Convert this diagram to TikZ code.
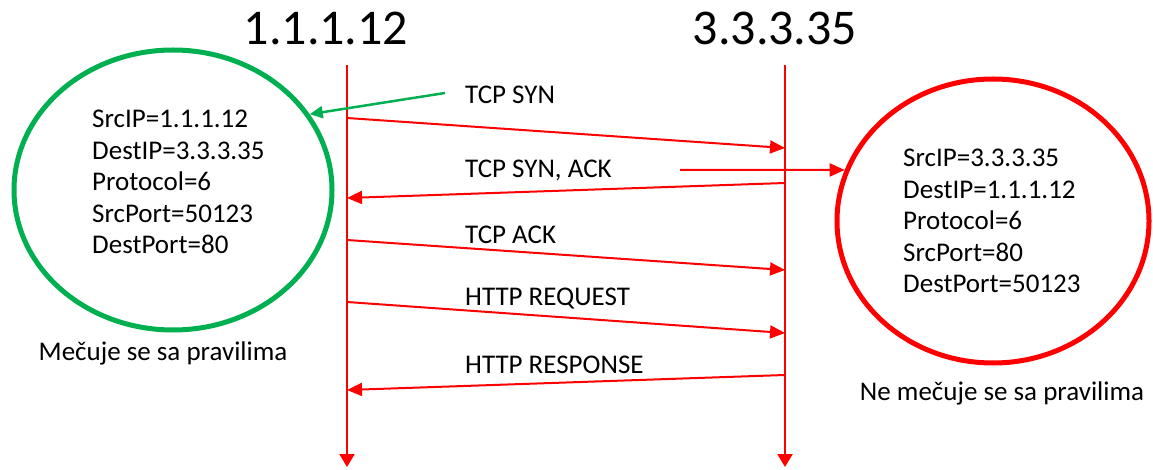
\documentclass[tikz,border=0pt]{standalone}
\usepackage{fontspec}
\setmainfont{Carlito}
\usetikzlibrary{arrows.meta}
\usetikzlibrary{shapes.geometric}
\usetikzlibrary{positioning}
\definecolor{okgreen}{HTML}{00B050}
\definecolor{msgred}{HTML}{FF0000}

\begin{document}
\begin{tikzpicture}[x=1pt, y=-1pt,
    host/.style={font=\fontsize{50}{54}\selectfont, inner sep=0pt},
    life/.style={draw=msgred, line width=2.3pt, -{Triangle[length=13pt, width=15pt]}},
    msg/.style={draw=msgred, line width=2pt, -{Triangle[length=15pt, width=13pt]}},
    note/.style={draw=okgreen, line width=2.5pt, -{Triangle[length=13pt, width=12pt]}},
    msglabel/.style={anchor=west, font=\fontsize{27}{31}\selectfont, inner sep=0pt},
    rules/.style={align=left, anchor=west, font=\fontsize{27}{31.5}\selectfont, inner sep=0pt},
    caption/.style={font=\fontsize{27}{31}\selectfont, inner sep=0pt},
    flow/.style={ellipse, line width=5pt, inner sep=0pt}]
       \useasboundingbox (0,0) rectangle (1153,470);

       % hosts and lifelines
       \node[host] (h1) at (326,28) {1.1.1.12};
       \node[host] (h2) at (775,28) {3.3.3.35};
       \coordinate (h1top) at (347,65);
       \coordinate (h1bot) at (347,467);
       \coordinate (h2top) at (785,65);
       \coordinate (h2bot) at (785,467);
       \draw[life] (h1top) -- (h1bot);
       \draw[life] (h2top) -- (h2bot);

       % packets
       \coordinate (syn1) at (347,118);  \coordinate (syn2) at (785,148);
       \coordinate (sack1) at (785,183); \coordinate (sack2) at (347,198);
       \coordinate (ack1) at (347,240);  \coordinate (ack2) at (785,270);
       \coordinate (req1) at (347,302);  \coordinate (req2) at (785,333);
       \coordinate (resp1) at (785,375); \coordinate (resp2) at (347,390);
       \draw[msg] (syn1) -- (syn2);
       \draw[msg] (sack1) -- (sack2);
       \draw[msg] (ack1) -- (ack2);
       \draw[msg] (req1) -- (req2);
       \draw[msg] (resp1) -- (resp2);
       \node[msglabel] (synl) at (465,95) {TCP SYN};
       \node[msglabel] (sackl) at (465,170) {TCP SYN, ACK};
       \node[msglabel] (ackl) at (465,235) {TCP ACK};
       \node[msglabel] (reql) at (465,299) {HTTP REQUEST};
       \node[msglabel] (respl) at (465,365) {HTTP RESPONSE};

       % firewall state
       \node[flow, draw=okgreen, minimum width=318, minimum height=280] (green) at (173,190) {};
       \node[flow, draw=msgred, minimum width=312, minimum height=284] (red) at (993,221) {};
       \node[rules] (gtxt) at (92,182) {SrcIP=1.1.1.12\\DestIP=3.3.3.35\\Protocol=6\\SrcPort=50123\\DestPort=80};
       \node[rules] (rtxt) at (903,221) {SrcIP=3.3.3.35\\DestIP=1.1.1.12\\Protocol=6\\SrcPort=80\\DestPort=50123};
       \node[caption] (gcap) at (163,353) {Mečuje se sa pravilima};
       \node[caption] (rcap) at (1002,393) {Ne mečuje se sa pravilima};

       \coordinate (gnote) at (445,93);
       \coordinate (rnote) at (680,170);
       \draw[note] (gnote) -- (green.29);
       \draw[msg] (rnote) -- (red.161);
    \end{tikzpicture}
\end{document}
